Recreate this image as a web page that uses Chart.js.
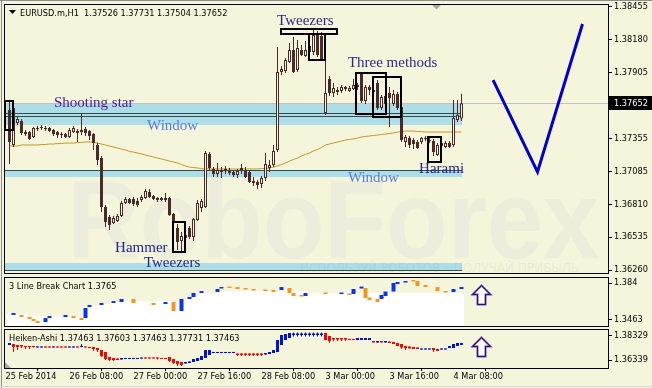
<!DOCTYPE html>
<html>
<head>
<meta charset="utf-8">
<title>EURUSD.m H1</title>
<script src="https://cdn.jsdelivr.net/npm/chart.js@4.4.1/dist/chart.umd.min.js"></script>
<style>
  html, body { margin: 0; padding: 0; background: #F5F5DC; }
  #wrap { position: relative; width: 652px; height: 388px; overflow: hidden; background: #F5F5DC; }
  #wrap canvas { position: absolute; left: 0; }
</style>
</head>
<body>
<div id="wrap">
  <canvas id="mainChart" width="652" height="276" style="top:0;width:652px;height:276px"></canvas>
  <canvas id="lbChart" width="652" height="52" style="top:276px;width:652px;height:52px"></canvas>
  <canvas id="haChart" width="652" height="60" style="top:328px;width:652px;height:60px"></canvas>
</div>
<script>
// EURUSD.m H1, one value per hourly bar (bar 0 = 25 Feb 17:00)
const opens = [
  1.37596,1.37305,1.37488,1.37505,1.37413,1.37413,1.37371,1.37438,1.37446,1.37446,
  1.37446,1.37430,1.37413,1.37396,1.37396,1.37371,1.37413,1.37405,1.37413,1.37438,
  1.37421,1.37396,1.37305,1.37196,1.36788,1.36705,1.36655,1.36671,1.36713,1.36821,
  1.36855,1.36855,1.36838,1.36846,1.36863,1.36913,1.36880,1.36863,1.36846,1.36863,
  1.36863,1.36730,1.36613,1.36505,1.36530,1.36613,1.36538,1.36680,1.36780,1.36788,
  1.37230,1.37105,1.37063,1.37080,1.37105,1.37088,1.37080,1.37055,1.37096,1.37096,
  1.37080,1.37005,1.36996,1.36980,1.37030,1.37113,1.37138,1.37263,1.37913,1.37921,
  1.37996,1.38096,1.37930,1.38096,1.38046,1.38080,1.38080,1.38221,1.38213,1.37571,
  1.37855,1.37738,1.37746,1.37755,1.37771,1.37755,1.37771,1.37788,1.37896,1.37671,
  1.37788,1.37763,1.37821,1.37613,1.37646,1.37738,1.37646,1.37730,1.37621,1.37330,
  1.37363,1.37346,1.37330,1.37330,1.37355,1.37346,1.37338,1.37221,1.37296,1.37288,
  1.37321,1.37305,1.37513,1.37526
];
const highs = [
  1.37663,1.37663,1.37538,1.37521,1.37430,1.37421,1.37455,1.37463,1.37471,1.37463,
  1.37455,1.37438,1.37421,1.37413,1.37405,1.37446,1.37463,1.37438,1.37571,1.37455,
  1.37430,1.37405,1.37321,1.37213,1.36805,1.36721,1.36713,1.36730,1.36838,1.36871,
  1.36863,1.36871,1.36863,1.36888,1.36938,1.36938,1.36888,1.36871,1.36871,1.36905,
  1.36871,1.36738,1.36646,1.36580,1.36571,1.36630,1.36696,1.36846,1.36855,1.37255,
  1.37246,1.37121,1.37155,1.37121,1.37130,1.37113,1.37096,1.37105,1.37146,1.37121,
  1.37096,1.37038,1.37013,1.37046,1.37238,1.37180,1.37305,1.38121,1.37963,1.38030,
  1.38155,1.38205,1.38180,1.38138,1.38171,1.38180,1.38263,1.38255,1.38246,1.38013,
  1.37880,1.37821,1.37788,1.37805,1.37796,1.37796,1.37855,1.37821,1.37913,1.37805,
  1.37805,1.37796,1.37846,1.37721,1.37746,1.37788,1.37763,1.37746,1.37638,1.37388,
  1.37380,1.37363,1.37346,1.37371,1.37380,1.37363,1.37355,1.37321,1.37338,1.37338,
  1.37338,1.37680,1.37680,1.37731
];
const lows = [
  1.37146,1.37288,1.37471,1.37388,1.37380,1.37346,1.37363,1.37421,1.37430,1.37421,
  1.37413,1.37380,1.37363,1.37363,1.37363,1.37363,1.37405,1.37330,1.37388,1.37380,
  1.37346,1.37263,1.37138,1.36746,1.36621,1.36596,1.36646,1.36663,1.36705,1.36813,
  1.36813,1.36796,1.36788,1.36830,1.36855,1.36863,1.36846,1.36830,1.36838,1.36830,
  1.36713,1.36646,1.36430,1.36413,1.36505,1.36521,1.36505,1.36671,1.36746,1.36780,
  1.37096,1.37038,1.37038,1.37030,1.37063,1.37055,1.37038,1.37030,1.37063,1.37030,
  1.36988,1.36963,1.36938,1.36946,1.37005,1.37080,1.37121,1.37246,1.37888,1.37905,
  1.37988,1.37905,1.37913,1.38046,1.38038,1.38063,1.38055,1.38038,1.38013,1.37555,
  1.37713,1.37705,1.37721,1.37738,1.37755,1.37746,1.37763,1.37763,1.37655,1.37646,
  1.37721,1.37721,1.37596,1.37596,1.37630,1.37455,1.37630,1.37596,1.37330,1.37288,
  1.37280,1.37271,1.37271,1.37313,1.37338,1.37321,1.37213,1.37213,1.37263,1.37280,
  1.37280,1.37288,1.37496,1.37504
];
const closes = [
  1.37330,1.37613,1.37521,1.37405,1.37396,1.37355,1.37446,1.37446,1.37455,1.37438,
  1.37421,1.37396,1.37388,1.37388,1.37371,1.37430,1.37446,1.37421,1.37430,1.37405,
  1.37380,1.37321,1.37180,1.36788,1.36663,1.36638,1.36696,1.36713,1.36821,1.36855,
  1.36821,1.36813,1.36805,1.36871,1.36921,1.36871,1.36855,1.36846,1.36863,1.36846,
  1.36721,1.36663,1.36496,1.36546,1.36555,1.36538,1.36688,1.36821,1.36838,1.37238,
  1.37113,1.37063,1.37096,1.37096,1.37088,1.37071,1.37055,1.37088,1.37113,1.37038,
  1.36996,1.36988,1.36971,1.37030,1.37146,1.37138,1.37255,1.37913,1.37938,1.38013,
  1.38096,1.37913,1.38113,1.38055,1.38096,1.38130,1.38221,1.38055,1.38021,1.37738,
  1.37738,1.37780,1.37763,1.37788,1.37788,1.37780,1.37805,1.37805,1.37671,1.37788,
  1.37763,1.37746,1.37613,1.37705,1.37713,1.37696,1.37730,1.37613,1.37346,1.37371,
  1.37305,1.37313,1.37280,1.37363,1.37363,1.37338,1.37246,1.37305,1.37321,1.37321,
  1.37288,1.37530,1.37555,1.37652
];
// moving average (gold line)
const movingAvg = [
  1.37296,1.37296,1.37296,1.37305,1.37305,1.37305,1.37305,1.37305,1.37309,1.37309,
  1.37313,1.37313,1.37317,1.37317,1.37321,1.37321,1.37321,1.37326,1.37326,1.37330,
  1.37330,1.37326,1.37321,1.37313,1.37305,1.37296,1.37288,1.37280,1.37271,1.37263,
  1.37251,1.37246,1.37238,1.37230,1.37221,1.37213,1.37205,1.37196,1.37188,1.37180,
  1.37171,1.37163,1.37155,1.37142,1.37130,1.37121,1.37117,1.37113,1.37109,1.37105,
  1.37105,1.37105,1.37105,1.37105,1.37105,1.37105,1.37105,1.37105,1.37105,1.37105,
  1.37105,1.37105,1.37105,1.37109,1.37109,1.37113,1.37121,1.37130,1.37142,1.37155,
  1.37171,1.37184,1.37196,1.37213,1.37226,1.37238,1.37255,1.37267,1.37284,1.37305,
  1.37313,1.37321,1.37330,1.37338,1.37346,1.37351,1.37355,1.37363,1.37371,1.37376,
  1.37380,1.37384,1.37388,1.37392,1.37396,1.37401,1.37405,1.37413,1.37417,1.37421,
  1.37421,1.37421,1.37417,1.37417,1.37413,1.37413,1.37413,1.37413,1.37413,1.37413,
  1.37413,1.37413,1.37413,1.37413
];
const lastPrice = 1.37652;

// price axis ticks (1.37630 sits under the price tag)
const priceTicks = [1.38455, 1.38180, 1.37905, 1.37355, 1.37085, 1.36810, 1.36535, 1.36260];

// "Window" zones and lines, in price
const zones = [[1.37471, 1.37646], [1.37038, 1.37096], [1.36259, 1.36321]];
const zoneLines = [1.37567, 1.37542, 1.37096, 1.36259];
const zoneEnd = 113.1;

// hand drawn V (bar index, price)
const vLineIdx = [120.9, 132, 143.25];
const vLinePrice = [1.37846, 1.37080, 1.38313];

// 3 Line Break pane
const lbIndex = [1,3,5,6,7,9,10,14,16,18,19,20,23,26,28,31,36,39,41,43,45,46,48,52,53,55,57,59,61,64,66,68,70,71,73,74,79,83,85,86,88,89,90,92,93,94,96,97,99,101,102,104,107,109,111,113];
const lbLow = [1.3514,1.3493,1.3473,1.3452,1.3432,1.3442,1.3483,1.3493,1.3483,1.3463,1.3483,1.3595,1.3616,1.3636,1.3646,1.3636,1.3616,1.3626,1.3554,1.3554,1.3677,1.3697,1.3738,1.3748,1.3784,1.3789,1.3779,1.3774,1.3764,1.3758,1.3748,1.3769,1.3738,1.3707,1.3702,1.3707,1.3728,1.3728,1.3718,1.3728,1.3784,1.3687,1.3667,1.3646,1.3677,1.3707,1.3753,1.3830,1.3845,1.3855,1.3809,1.3799,1.3758,1.3743,1.3748,1.3779];
const lbHigh = [1.3534,1.3514,1.3493,1.3473,1.3452,1.3483,1.3503,1.3514,1.3503,1.3483,1.3585,1.3616,1.3636,1.3656,1.3677,1.3677,1.3636,1.3646,1.3646,1.3677,1.3697,1.3738,1.3758,1.3779,1.3799,1.3804,1.3799,1.3789,1.3779,1.3774,1.3769,1.3799,1.3789,1.3738,1.3718,1.3738,1.3743,1.3743,1.3733,1.3779,1.3804,1.3789,1.3692,1.3677,1.3718,1.3753,1.3840,1.3850,1.3860,1.3871,1.3860,1.3820,1.3799,1.3758,1.3779,1.3799];
const lbUp = [1,0,0,0,0,1,1,1,0,0, 1,1,1,1,1,0,0,1,0,1, 1,1,1,1,1,0,0,0,0,0, 0,1,0,0,0,1,0,1,0,1, 1,0,0,0,1,1,1,1,1,0, 0,0,0,0,1,1];
const lbWhiteTop = [
  1.3519,1.3519,1.3519,1.3519,1.3519,1.3498,1.3498,1.3498,1.3498,1.3498,
  1.3498,1.3498,1.3498,1.3498,1.3498,1.3498,1.3498,1.3498,1.3498,1.3605,
  1.3605,1.3605,1.3605,1.3626,1.3626,1.3626,1.3646,1.3646,1.3656,1.3656,
  1.3656,1.3656,1.3656,1.3656,1.3656,1.3656,1.3656,1.3656,1.3656,1.3656,
  1.3656,1.3646,1.3646,1.3646,1.3677,1.3677,1.3707,1.3707,1.3738,1.3738,
  1.3738,1.3738,1.3758,1.3758,1.3758,1.3758,1.3758,1.3758,1.3758,1.3758,
  1.3758,1.3758,1.3758,1.3758,1.3758,1.3758,1.3758,1.3758,1.3758,1.3758,
  1.3758,1.3758,1.3758,1.3758,1.3758,1.3738,1.3738,1.3738,1.3738,1.3738,
  1.3738,1.3738,1.3738,1.3738,1.3738,1.3738,1.3738,1.3738,1.3738,1.3738,
  1.3738,1.3738,1.3738,1.3738,1.3738,1.3738,1.3738,1.3738,1.3738,1.3738,
  1.3738,1.3738,1.3738,1.3738,1.3738,1.3738,1.3738,1.3738,1.3738,1.3738,
  1.3738,1.3738,1.3738,1.3738
];
const lbTicks = [1.384, 1.3463];
const lbTickLabels = ['1.384', '1.3463'];

// Heiken-Ashi pane
const haOpen = [
  1.37583,1.37666,1.37583,1.37583,1.37500,1.37500,1.37500,1.37376,1.37376,1.37459,
  1.37459,1.37376,1.37459,1.37459,1.37459,1.37376,1.37376,1.37459,1.37417,1.37459,
  1.37417,1.37417,1.37334,1.37168,1.37003,1.36588,1.36505,1.36464,1.36381,1.36422,
  1.36422,1.36422,1.36422,1.36464,1.36547,1.36547,1.36547,1.36547,1.36505,1.36505,
  1.36588,1.36422,1.36256,1.36173,1.36049,1.36090,1.36173,1.36256,1.36339,1.36505,
  1.36754,1.36920,1.36920,1.36920,1.36920,1.36920,1.36920,1.36878,1.36878,1.36878,
  1.36878,1.36878,1.36878,1.36878,1.36796,1.36837,1.36920,1.37003,1.37583,1.37997,
  1.38163,1.38412,1.38412,1.38412,1.38412,1.38412,1.38412,1.38412,1.38412,1.38578,
  1.38329,1.38163,1.38163,1.38163,1.38163,1.38080,1.38080,1.37997,1.37997,1.37997,
  1.37997,1.37914,1.37790,1.37914,1.37790,1.37873,1.37832,1.37749,1.37666,1.37500,
  1.37459,1.37417,1.37376,1.37210,1.37210,1.37210,1.37334,1.37251,1.37210,1.37210,
  1.37334,1.37334,1.37500,1.37583
];
const haClose = [
  1.37749,1.37417,1.37417,1.37459,1.37417,1.37417,1.37417,1.37459,1.37459,1.37376,
  1.37376,1.37459,1.37376,1.37376,1.37376,1.37459,1.37459,1.37376,1.37500,1.37376,
  1.37334,1.37251,1.37168,1.36671,1.36422,1.36339,1.36339,1.36339,1.36505,1.36505,
  1.36505,1.36505,1.36505,1.36547,1.36464,1.36464,1.36464,1.36464,1.36422,1.36422,
  1.36256,1.36090,1.36008,1.35925,1.36173,1.36215,1.36422,1.36505,1.36671,1.37168,
  1.37168,1.37003,1.37003,1.37003,1.37003,1.37003,1.37003,1.36754,1.36754,1.36754,
  1.36754,1.36754,1.36754,1.36754,1.36920,1.37003,1.37168,1.37997,1.38412,1.38495,
  1.38578,1.38536,1.38536,1.38536,1.38536,1.38536,1.38536,1.38536,1.38536,1.37997,
  1.37914,1.38039,1.38039,1.38039,1.38039,1.37997,1.37997,1.38163,1.38163,1.38163,
  1.38163,1.37790,1.37914,1.37790,1.37914,1.37749,1.37666,1.37500,1.37376,1.37334,
  1.37293,1.37251,1.37251,1.37293,1.37293,1.37293,1.37168,1.37086,1.37293,1.37293,
  1.37500,1.37666,1.37749,1.37749
];
const haHigh = [
  1.37749,1.37666,1.37583,1.37583,1.37500,1.37500,1.37500,1.37459,1.37459,1.37459,
  1.37459,1.37459,1.37459,1.37459,1.37459,1.37459,1.37459,1.37459,1.37666,1.37459,
  1.37417,1.37417,1.37334,1.37168,1.37003,1.36588,1.36505,1.36464,1.36505,1.36505,
  1.36505,1.36505,1.36505,1.36547,1.36547,1.36547,1.36547,1.36547,1.36505,1.36505,
  1.36588,1.36422,1.36256,1.36173,1.36173,1.36215,1.36422,1.36505,1.36671,1.37168,
  1.37168,1.37003,1.37003,1.37003,1.37003,1.37003,1.37003,1.36878,1.36878,1.36878,
  1.36878,1.36878,1.36878,1.36878,1.36920,1.37003,1.37168,1.37997,1.38412,1.38495,
  1.38578,1.38619,1.38619,1.38619,1.38619,1.38619,1.38619,1.38619,1.38619,1.38578,
  1.38329,1.38163,1.38163,1.38163,1.38163,1.38080,1.38080,1.38163,1.38163,1.38163,
  1.38163,1.37914,1.37914,1.37914,1.37914,1.37873,1.37832,1.37749,1.37666,1.37500,
  1.37459,1.37417,1.37376,1.37293,1.37293,1.37293,1.37334,1.37251,1.37293,1.37293,
  1.37500,1.37666,1.37749,1.37749
];
const haLow = [
  1.37583,1.37003,1.37168,1.37334,1.37251,1.37251,1.37376,1.37376,1.37376,1.37376,
  1.37376,1.37376,1.37376,1.37376,1.37376,1.37376,1.37376,1.37376,1.37417,1.37376,
  1.37334,1.37086,1.37003,1.36588,1.36339,1.36256,1.36256,1.36339,1.36381,1.36422,
  1.36422,1.36422,1.36422,1.36464,1.36464,1.36464,1.36464,1.36381,1.36422,1.36422,
  1.36173,1.36008,1.35842,1.35842,1.36049,1.36090,1.36173,1.36256,1.36339,1.36505,
  1.36754,1.36920,1.36920,1.36920,1.36920,1.36920,1.36920,1.36671,1.36671,1.36671,
  1.36671,1.36671,1.36671,1.36671,1.36796,1.36837,1.36920,1.37003,1.37583,1.37997,
  1.38163,1.38288,1.38288,1.38288,1.38288,1.38288,1.38288,1.38288,1.38288,1.37997,
  1.37749,1.37914,1.37914,1.37914,1.37914,1.37997,1.37997,1.37997,1.37997,1.37997,
  1.37997,1.37790,1.37790,1.37790,1.37790,1.37749,1.37666,1.37500,1.37251,1.37168,
  1.37293,1.37251,1.37251,1.37210,1.37210,1.37210,1.37003,1.37086,1.37210,1.37210,
  1.37334,1.37334,1.37500,1.37583
];
const haTicks = [1.38329, 1.36339];

// time axis
const timeTickIdx = [-1, 15, 31, 47, 63, 79, 95, 111];
const timeLabels = ['25 Feb 2014', '26 Feb 08:00', '27 Feb 00:00', '27 Feb 16:00', '28 Feb 08:00', '3 Mar 00:00', '3 Mar 16:00', '4 Mar 08:00'];

// pattern marks (bar index range, price range)
const patternBoxes = [
  { k0: -1.125, k1: 0.875, lo: 1.37430, hi: 1.37671 },
  { k0: 67.9, k1: 81.9, lo: 1.38230, hi: 1.38271 },
  { k0: 74.75, k1: 78.9, lo: 1.38013, hi: 1.38234 },
  { k0: 86.6, k1: 94.1, lo: 1.37563, hi: 1.37905 },
  { k0: 90.75, k1: 98.0, lo: 1.37538, hi: 1.37871 },
  { k0: 40.9, k1: 43.9, lo: 1.36413, hi: 1.36663 },
  { k0: 104.6, k1: 108.0, lo: 1.37163, hi: 1.37371 }
];
const patternLabels = [
  { text: 'Shooting star', k: 11.1, price: 1.37621, color: '#4A1C94' },
  { text: 'Window', k: 34.4, price: 1.37430, color: '#5C7AE0' },
  { text: 'Tweezers', k: 66.9, price: 1.38305, color: '#2B2A80' },
  { text: 'Three methods', k: 84.6, price: 1.37955, color: '#2B2A8C' },
  { text: 'Window', k: 84.6, price: 1.36996, color: '#5C7AE0' },
  { text: 'Harami', k: 102.4, price: 1.37071, color: '#23238C' },
  { text: 'Hammer', k: 26.4, price: 1.36413, color: '#23238C' },
  { text: 'Tweezers', k: 33.6, price: 1.36288, color: '#23238C' }
];

const BEIGE = '#F5F5DC';
const CANDLE = '#4A2A2A';
const FONT = 'DejaVu Sans';
const LB_MIN = 1.34018, LB_MAX = 1.39012;
const HA_MIN = 1.35676, HA_MAX = 1.38909;

const n = opens.length - 1;
const chartTitle = 'EURUSD.m,H1  ' + [opens[n], highs[n], lows[n], closes[n]].map(v => v.toFixed(5)).join(' ');

// candles
const idx = opens.map((_, i) => i);
const wickData = idx.map(i => ({ x: i, y: [lows[i], highs[i]] }));
const bodyData = idx.map(i => {
  let lo = Math.min(opens[i], closes[i]), hi = Math.max(opens[i], closes[i]);
  if (hi - lo < 0.0001) { const m = (lo + hi) / 2; lo = m - 0.00005; hi = m + 0.00005; }
  return { x: i, y: [lo, hi] };
});
const bodyFill = idx.map(i => closes[i] >= opens[i] ? BEIGE : CANDLE);
const maData = movingAvg.map((v, i) => ({ x: i, y: v }));
const vData = vLineIdx.map((k, j) => ({ x: k, y: vLinePrice[j] }));

// line break bricks
const brickData = lbIndex.map((k, j) => ({ x: k, y: [lbLow[j], lbHigh[j]] }));
const brickColors = lbUp.map(u => u ? '#0A32F0' : '#F7941D');
const whiteData = lbWhiteTop.map((t, k) => ({ x: k, y: [LB_MIN, t] }));

// heiken ashi
const haBody = haOpen.map((o, i) => {
  let lo = Math.min(o, haClose[i]), hi = Math.max(o, haClose[i]);
  if (hi - lo < 0.0009) { const m = (lo + hi) / 2; lo = m - 0.00045; hi = m + 0.00045; }
  return { x: i, y: [lo, hi] };
});
const haColors = haOpen.map((o, i) => haClose[i] >= o ? '#0010E0' : '#FF0000');
const haWick = haOpen.map((o, i) => ({ x: i, y: [haLow[i], haHigh[i]] }));

function xAxisHidden() {
  return { type: 'linear', min: -1.375, max: 149.625, offset: false, display: false };
}

function rightAxis(min, max, ticks, labels) {
  return {
    type: 'linear', position: 'right', min: min, max: max,
    afterBuildTicks: s => { s.ticks = ticks.map(v => ({ value: v })); },
    afterFit: s => { s.width = 44; s.paddingTop = 0; s.paddingBottom = 0; },
    ticks: { autoSkip: false, padding: 2, color: '#000', font: { family: FONT, size: 8.2 },
             callback: (v, i) => labels[i] },
    grid: { drawOnChartArea: false, tickLength: 4, color: '#000', lineWidth: 1 },
    border: { display: false }
  };
}

function frame(ctx, a) {
  ctx.save();
  ctx.strokeStyle = '#000';
  ctx.lineWidth = 1;
  ctx.strokeRect(a.left + 0.5, a.top + 0.5, a.right - a.left, a.bottom - a.top);
  ctx.restore();
}

function drawArrow(ctx, cx, ty) {
  ctx.beginPath();
  ctx.moveTo(cx, ty);
  ctx.lineTo(cx + 9, ty + 9);
  ctx.lineTo(cx + 4, ty + 9);
  ctx.lineTo(cx + 4, ty + 19);
  ctx.lineTo(cx - 4, ty + 19);
  ctx.lineTo(cx - 4, ty + 9);
  ctx.lineTo(cx - 9, ty + 9);
  ctx.closePath();
  ctx.fillStyle = '#FFFFFF';
  ctx.fill();
  ctx.lineWidth = 2;
  ctx.strokeStyle = '#7B4FA8';
  ctx.stroke();
  ctx.lineWidth = 1;
  ctx.strokeStyle = '#15157A';
  ctx.stroke();
}

const commonOpts = {
  responsive: false,
  animation: false,
  events: [],
  plugins: { legend: { display: false }, tooltip: { enabled: false } }
};

// main price pane
const mainDecor = {
  id: 'mainDecor',
  beforeDraw(chart) {
    const { ctx, width, height } = chart;
    ctx.save();
    ctx.fillStyle = BEIGE;
    ctx.fillRect(0, 0, width, height);
    ctx.restore();
  },
  beforeDatasetsDraw(chart) {
    const { ctx, chartArea: a, scales: { x, y } } = chart;
    ctx.save();
    ctx.beginPath();
    ctx.rect(a.left, a.top, a.right - a.left, a.bottom - a.top);
    ctx.clip();
    // watermark
    ctx.save();
    ctx.fillStyle = '#ECEDDA';
    ctx.font = 'bold 112px "Liberation Sans"';
    ctx.translate(67, 258);
    ctx.scale(0.9, 1);
    ctx.fillText('RoboForex', 0, 0);
    ctx.restore();
    // window zones
    const zx1 = Math.round(x.getPixelForValue(zoneEnd));
    ctx.fillStyle = '#ADDDE6';
    zones.forEach(([lo, hi]) => {
      const t = Math.round(y.getPixelForValue(hi)), b = Math.round(y.getPixelForValue(lo));
      ctx.fillRect(a.left, t, zx1 - a.left, b - t);
    });
    ctx.fillStyle = '#2F4F4F';
    zoneLines.forEach(v => ctx.fillRect(a.left, Math.floor(y.getPixelForValue(v)), zx1 - a.left, 1));
    ctx.fillStyle = 'rgba(120,130,120,0.08)';
    ctx.font = '12px "DejaVu Sans"';
    ctx.fillText('ИСПОЛЬЗУЙ РОБОТОВ – ПОЛУЧАЙ ПРИБЫЛЬ', 300, 272);
    // bid line
    ctx.fillStyle = '#C0C0C0';
    ctx.fillRect(a.left, Math.round(y.getPixelForValue(lastPrice)), a.right - a.left, 1);
    ctx.restore();
  },
  afterDatasetsDraw(chart) {
    const { ctx, scales: { x, y } } = chart;
    ctx.save();
    ctx.strokeStyle = '#000';
    ctx.lineWidth = 2;
    patternBoxes.forEach(b => {
      const l = Math.round(x.getPixelForValue(b.k0)), r = Math.round(x.getPixelForValue(b.k1));
      const t = Math.round(y.getPixelForValue(b.hi)), btm = Math.round(y.getPixelForValue(b.lo));
      ctx.strokeRect(l, t, r - l, btm - t);
    });
    ctx.font = '15px "Liberation Serif"';
    ctx.textBaseline = 'alphabetic';
    patternLabels.forEach(p => {
      ctx.fillStyle = p.color;
      ctx.fillText(p.text, x.getPixelForValue(p.k), y.getPixelForValue(p.price));
    });
    ctx.restore();
  },
  afterDraw(chart) {
    const { ctx, chartArea: a, scales: { y } } = chart;
    ctx.save();
    frame(ctx, a);
    ctx.fillStyle = '#8C8C8C';
    ctx.fillRect(1, 0, 1, chart.height);
    ctx.fillRect(0, 0, chart.width, 1);
    // title
    ctx.fillStyle = '#000';
    ctx.beginPath();
    ctx.moveTo(9, 10); ctx.lineTo(16, 10); ctx.lineTo(12.5, 14); ctx.closePath();
    ctx.fill();
    ctx.font = '8.2px "DejaVu Sans"';
    ctx.textBaseline = 'alphabetic';
    ctx.fillText(chartTitle, 20, 16);
    // chart shift marker
    ctx.fillStyle = '#A8A8A8';
    ctx.beginPath();
    ctx.moveTo(432, 5); ctx.lineTo(441, 5); ctx.lineTo(436.5, 9.5); ctx.closePath();
    ctx.fill();
    // price tag
    const py = Math.round(y.getPixelForValue(lastPrice));
    ctx.fillStyle = '#000';
    ctx.fillRect(a.right + 1, py - 7, chart.width - a.right - 1, 14);
    ctx.fillStyle = '#FFF';
    ctx.textBaseline = 'middle';
    ctx.fillText(lastPrice.toFixed(5), a.right + 6, py + 0.5);
    ctx.restore();
  }
};

new Chart(document.getElementById('mainChart'), {
  type: 'bar',
  data: {
    datasets: [
      { type: 'line', data: vData, borderColor: '#0000CC', borderWidth: 3, pointRadius: 0, order: 0 },
      { type: 'bar', data: bodyData, backgroundColor: bodyFill, borderColor: CANDLE, borderWidth: 1,
        borderSkipped: false, barThickness: 3, grouped: false, inflateAmount: 0, order: 1 },
      { type: 'bar', data: wickData, backgroundColor: CANDLE, barThickness: 1, grouped: false,
        inflateAmount: 0, order: 2 },
      { type: 'line', data: maData, borderColor: '#C8961E', borderWidth: 1, pointRadius: 0, order: 3 }
    ]
  },
  options: Object.assign({}, commonOpts, {
    layout: { padding: { left: 4, top: 4, right: 0, bottom: 3 } },
    scales: {
      x: xAxisHidden(),
      y: rightAxis(1.36238, 1.38480, priceTicks, priceTicks.map(v => v.toFixed(5)))
    }
  }),
  plugins: [mainDecor]
});

// lower panes
function paneDecor(header, arrowIdx, arrowValue, cornerMark) {
  return {
    id: 'paneDecor',
    beforeDraw(chart) {
      const { ctx, width, height } = chart;
      ctx.save();
      ctx.fillStyle = BEIGE;
      ctx.fillRect(0, 0, width, height);
      ctx.restore();
    },
    afterDraw(chart) {
      const { ctx, chartArea: a, scales: { x, y } } = chart;
      ctx.save();
      frame(ctx, a);
      ctx.fillStyle = '#8C8C8C';
      ctx.fillRect(1, 0, 1, chart.height);
      ctx.fillStyle = '#000';
      ctx.font = '8.2px "DejaVu Sans"';
      ctx.textBaseline = 'alphabetic';
      ctx.fillText(header, 9, a.top + 12);
      drawArrow(ctx, Math.round(x.getPixelForValue(arrowIdx)) + 0.5, Math.round(y.getPixelForValue(arrowValue)) + 0.5);
      if (cornerMark) {
        ctx.fillStyle = '#A9A9A9';
        ctx.beginPath();
        ctx.moveTo(a.left + 1, a.bottom);
        ctx.lineTo(a.left + 1, a.bottom - 6);
        ctx.lineTo(a.left + 7, a.bottom);
        ctx.closePath();
        ctx.fill();
        ctx.fillStyle = '#D8D8D8';
        ctx.fillRect(0, chart.height - 2, chart.width, 1);
      }
      ctx.restore();
    }
  };
}

new Chart(document.getElementById('lbChart'), {
  type: 'bar',
  data: {
    datasets: [
      { data: brickData, backgroundColor: brickColors, barThickness: 4, grouped: false, inflateAmount: 0, order: 0 },
      { data: whiteData, backgroundColor: '#FFFFFF', barThickness: 5, grouped: false, inflateAmount: 0, order: 1 }
    ]
  },
  options: Object.assign({}, commonOpts, {
    layout: { padding: { left: 4, top: 1, right: 0, bottom: 2 } },
    scales: { x: xAxisHidden(), y: rightAxis(LB_MIN, LB_MAX, lbTicks, lbTickLabels) }
  }),
  plugins: [paneDecor('3 Line Break Chart 1.3765', 117.9, 1.38196, false)]
});

new Chart(document.getElementById('haChart'), {
  type: 'bar',
  data: {
    datasets: [
      { data: haBody, backgroundColor: haColors, barThickness: 3, grouped: false, inflateAmount: 0, order: 0 },
      { data: haWick, backgroundColor: haColors, barThickness: 1, grouped: false, inflateAmount: 0, order: 1 }
    ]
  },
  options: Object.assign({}, commonOpts, {
    layout: { padding: { left: 4, top: 1, right: 0, bottom: 0 } },
    scales: {
      x: {
        type: 'linear', min: -1.375, max: 149.625, offset: false, position: 'bottom',
        afterBuildTicks: s => { s.ticks = timeTickIdx.map(v => ({ value: v })); },
        afterFit: s => { s.height = 20; s.paddingLeft = 0; s.paddingRight = 0; },
        ticks: { autoSkip: false, maxRotation: 0, minRotation: 0, align: 'start', padding: 1, color: '#000',
                 font: { family: FONT, size: 8.2 }, callback: (v, i) => timeLabels[i] },
        grid: { drawOnChartArea: false, tickLength: 3, color: '#000' },
        border: { display: false }
      },
      y: rightAxis(HA_MIN, HA_MAX, haTicks, haTicks.map(v => v.toFixed(5)))
    }
  }),
  plugins: [paneDecor('Heiken-Ashi 1.37463 1.37603 1.37463 1.37731 1.37463', 117.9, 1.38246, true)]
});
</script>
</body>
</html>
